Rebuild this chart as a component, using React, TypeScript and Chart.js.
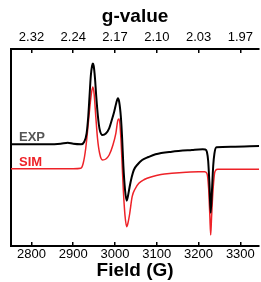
import React, { useEffect, useRef } from "react";
import { Chart, registerables } from "chart.js";

Chart.register(...registerables);

const fieldTicks = [2800, 2900, 3000, 3100, 3200, 3300];
const gTickLabels = ["2.32", "2.24", "2.17", "2.10", "2.03", "1.97"];

const expField = [2751, 2840, 2870, 2887, 2900, 2919, 2926, 2932, 2936, 2939, 2942, 2945, 2947, 2949, 2952, 2955, 2959, 2963, 2970, 2978, 2986, 2993, 2998, 3003, 3007, 3010, 3014, 3017, 3020, 3024, 3028, 3031, 3035, 3040, 3045, 3055, 3065, 3080, 3097, 3136, 3184, 3210, 3216, 3220, 3223, 3226, 3229, 3232, 3235, 3238, 3243, 3279, 3345];
const expSignal = [101.7, 101.7, 102.3, 103.3, 102.2, 101.7, 104, 112.7, 130, 150, 170, 180, 182.5, 180, 168, 150, 130, 117, 111, 112.5, 117.7, 127, 134.3, 143, 147.7, 144, 129, 108, 80, 56, 45.3, 50, 59.3, 69, 76, 82, 86, 89, 91.7, 94.3, 96, 96.7, 96.5, 94, 85, 62, 33.3, 55, 80, 92.7, 98.7, 99.3, 100];

const simField = [2751, 2900, 2918, 2924, 2930, 2936, 2940, 2944, 2947, 2950, 2954, 2958, 2963, 2970, 2978, 2986, 2995, 3002, 3007, 3010, 3014, 3017, 3020, 3024, 3028, 3031, 3035, 3041, 3048, 3057, 3070, 3088, 3110, 3136, 3170, 3200, 3214, 3220, 3224, 3227, 3229, 3231, 3234, 3238, 3241, 3246, 3345];
const simSignal = [77.3, 77.3, 77.8, 83, 98, 122.7, 140, 154, 159, 152, 129.3, 108, 93, 86, 87, 91, 101, 112.7, 126, 127, 108, 82, 55, 30, 19.3, 23, 32, 49.3, 57, 62.7, 66.5, 69.3, 71.5, 72.7, 73.8, 74.3, 74.2, 72.5, 58, 30, 11, 28, 52, 72, 75.8, 76.7, 76.7];

const seriesNames = ["EXP", "SIM"];
const FONT = "'Liberation Sans', Arial, Helvetica, sans-serif";

export default function App() {
  const canvasRef = useRef<HTMLCanvasElement | null>(null);

  useEffect(() => {
    const canvas = canvasRef.current;
    if (!canvas) return;

    const labelPlugin = {
      id: "seriesLabels",
      afterDatasetsDraw(chart: any) {
        const ctx = chart.ctx;
        ctx.save();
        ctx.font = `bold 13px ${FONT}`;
        ctx.textAlign = "left";
        ctx.textBaseline = "alphabetic";
        ctx.fillStyle = "#555555";
        ctx.fillText(seriesNames[0], 19, 140.5);
        ctx.fillStyle = "rgb(238,34,40)";
        ctx.fillText(seriesNames[1], 19, 165.5);
        ctx.restore();
      },
    };

    const chart = new Chart(canvas, {
      type: "line",
      data: {
        datasets: [
          {
            label: seriesNames[0],
            data: expField.map((x, i) => ({ x, y: expSignal[i] })),
            borderColor: "#000000",
            borderWidth: 2,
            pointRadius: 0,
            cubicInterpolationMode: "monotone",
            xAxisID: "x",
            yAxisID: "y",
            order: 1,
          },
          {
            label: seriesNames[1],
            data: simField.map((x, i) => ({ x, y: simSignal[i] })),
            borderColor: "rgb(238,34,40)",
            borderWidth: 1.5,
            pointRadius: 0,
            cubicInterpolationMode: "monotone",
            xAxisID: "x",
            yAxisID: "y",
            order: 2,
          },
        ],
      },
      options: {
        responsive: false,
        animation: false,
        layout: { padding: 0 },
        plugins: { legend: { display: false }, tooltip: { enabled: false } },
        scales: {
          x: {
            type: "linear",
            position: "bottom",
            min: 2751,
            max: 3345,
            afterBuildTicks: (scale: any) => {
              scale.ticks = fieldTicks.map((v) => ({ value: v }));
            },
            afterFit: (scale: any) => {
              scale.height = 36;
            },
            grid: {
              drawOnChartArea: false,
              drawTicks: true,
              tickLength: -4,
              color: "#000000",
              lineWidth: 1.5,
            },
            border: { display: true, color: "#000000", width: 2 },
            ticks: {
              color: "#000000",
              font: { family: FONT, size: 13 },
              padding: 5,
              maxRotation: 0,
              autoSkip: false,
              callback: (v: any) => String(v),
            },
            title: {
              display: true,
              text: "Field (G)",
              color: "#000000",
              font: { family: FONT, size: 19, weight: "bold" },
              padding: { top: 0, bottom: 0 },
            },
          },
          x2: {
            type: "linear",
            position: "top",
            min: 2751,
            max: 3345,
            afterBuildTicks: (scale: any) => {
              scale.ticks = fieldTicks.map((v) => ({ value: v }));
            },
            afterFit: (scale: any) => {
              scale.height = 49;
            },
            grid: {
              drawOnChartArea: false,
              drawTicks: true,
              tickLength: -4,
              color: "#000000",
              lineWidth: 1.5,
            },
            border: { display: true, color: "#000000", width: 2 },
            ticks: {
              color: "#000000",
              font: { family: FONT, size: 13 },
              padding: 8,
              maxRotation: 0,
              autoSkip: false,
              callback: (v: any) => {
                const i = fieldTicks.indexOf(Number(v));
                return i >= 0 ? gTickLabels[i] : "";
              },
            },
            title: {
              display: true,
              text: "g-value",
              color: "#000000",
              font: { family: FONT, size: 19, weight: "bold" },
              padding: { top: 5, bottom: 0 },
            },
          },
          y: {
            type: "linear",
            position: "left",
            min: 0,
            max: 197,
            afterFit: (scale: any) => {
              scale.width = 11;
            },
            grid: { display: false, drawTicks: false },
            border: { display: true, color: "#000000", width: 2 },
            ticks: { display: false },
          },
        },
      },
      plugins: [labelPlugin],
    } as any);

    return () => chart.destroy();
  }, []);

  return (
    <div style={{ position: "fixed", left: 0, top: 0, width: 261, height: 282, background: "#ffffff" }}>
      <canvas ref={canvasRef} width={261} height={282} style={{ display: "block", width: 261, height: 282 }} />
    </div>
  );
}
